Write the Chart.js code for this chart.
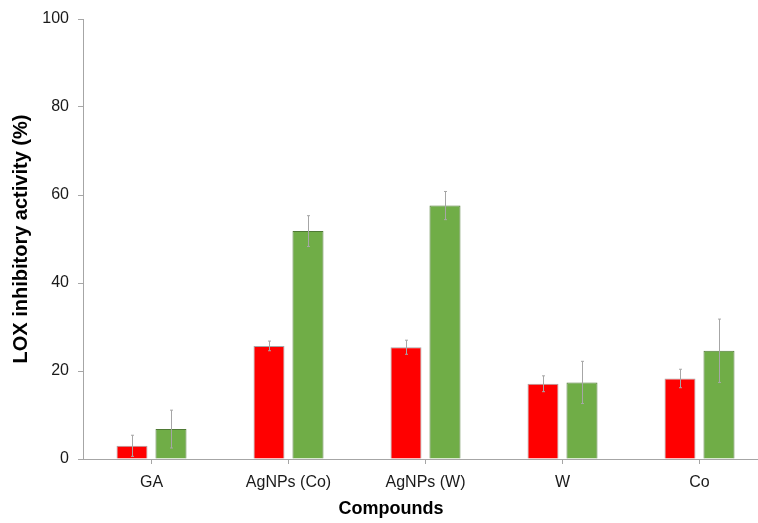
<!DOCTYPE html>
<html>
<head>
<meta charset="utf-8">
<script src="https://cdn.jsdelivr.net/npm/chart.js@4.4.1/dist/chart.umd.min.js"></script>
<style>
  html, body { margin: 0; padding: 0; background: #ffffff; overflow: hidden; }
  /* the original plot runs a little past the right edge of the picture */
  #wrap { width: 758px; height: 523px; overflow: hidden; }
</style>
</head>
<body>
<div id="wrap"><canvas id="lox-chart" width="768" height="523"></canvas></div>
<script>
// values (LOX inhibitory activity, %)
const compounds = ['GA', 'AgNPs (Co)', 'AgNPs (W)', 'W', 'Co'];
const red_values = [3.0, 25.7, 25.4, 17.1, 18.3];
const red_errors = [2.4, 1.1, 1.6, 1.8, 2.1];
const green_values = [6.8, 51.8, 57.6, 17.4, 24.6];
const green_errors = [4.3, 3.5, 3.2, 4.8, 7.2];
const y_ticks = [0, 20, 40, 60, 80, 100];

const axis_grey = '#a6a6a6';
const font_family = '"Liberation Sans", Arial, sans-serif';

const error_lookup = [red_errors, green_errors];

// thin grey error bars drawn over the bars
const error_bars = {
    id: 'error_bars',
    afterDatasetsDraw(chart)
    {
        const ctx = chart.ctx;
        const y = chart.scales.y;
        ctx.save();
        ctx.strokeStyle = axis_grey;
        ctx.lineWidth = 1;
        chart.data.datasets.forEach(function(ds, d) {
            const meta = chart.getDatasetMeta(d);
            meta.data.forEach(function(bar, i) {
                const err = error_lookup[d][i];
                const top = y.getPixelForValue(ds.data[i] + err);
                const bottom = y.getPixelForValue(Math.max(0, ds.data[i] - err));
                const x = Math.round(bar.x) + 0.5;
                ctx.beginPath();
                ctx.moveTo(x, top);
                ctx.lineTo(x, bottom);
                ctx.moveTo(x - 1.5, top);
                ctx.lineTo(x + 1.5, top);
                ctx.moveTo(x - 1.5, bottom);
                ctx.lineTo(x + 1.5, bottom);
                ctx.stroke();
            });
        });
        ctx.restore();
    }
};

// x axis title sits a bit left of the plot centre in the original
const x_title = {
    id: 'x_title',
    afterDraw(chart)
    {
        const ctx = chart.ctx;
        ctx.save();
        ctx.fillStyle = '#000000';
        ctx.font = 'bold 18px ' + font_family;
        ctx.textAlign = 'center';
        ctx.textBaseline = 'alphabetic';
        ctx.fillText('Compounds', chart.width / 2 + 7, 514);
        ctx.restore();
    }
};

const ctx = document.getElementById('lox-chart').getContext('2d');
const lox_chart = new Chart(ctx, {
    type: 'bar',
    data: {
        labels: compounds,
        datasets: [{
            label: 'Series 1',
            data: red_values,
            backgroundColor: '#ff0000',
            borderColor: '#a6a6a6',
            borderWidth: 1,
            barPercentage: 0.795,
            categoryPercentage: 0.569
        }, {
            label: 'Series 2',
            data: green_values,
            backgroundColor: '#70ad47',
            borderColor: '#4f7a35',
            borderWidth: 1,
            barPercentage: 0.795,
            categoryPercentage: 0.569
        }]
    },
    options: {
        responsive: false,
        animation: false,
        layout: {
            padding: { top: 19, right: 0, bottom: 0, left: 0 }
        },
        plugins: {
            legend: { display: false },
            tooltip: { enabled: false }
        },
        scales: {
            x: {
                offset: true,
                border: { display: true, color: axis_grey, width: 1 },
                grid: {
                    offset: false,
                    drawOnChartArea: false,
                    drawTicks: true,
                    tickLength: 5,
                    color: axis_grey
                },
                ticks: {
                    color: '#1a1a1a',
                    padding: 9,
                    maxRotation: 0,
                    font: { family: font_family, size: 16 }
                },
                afterFit: function(scale) { scale.height = 64; }
            },
            y: {
                min: 0,
                max: 100,
                border: { display: true, color: axis_grey, width: 1 },
                grid: {
                    drawOnChartArea: false,
                    drawTicks: true,
                    tickLength: 5,
                    color: axis_grey
                },
                ticks: {
                    color: '#1a1a1a',
                    padding: 9,
                    font: { family: font_family, size: 16 }
                },
                afterBuildTicks: function(scale) {
                    scale.ticks = y_ticks.map(function(v) { return { value: v }; });
                },
                title: {
                    display: true,
                    text: 'LOX inhibitory activity (%)',
                    color: '#000000',
                    font: { family: font_family, size: 20, weight: 'bold' },
                    padding: { top: 9, bottom: 0 }
                },
                afterFit: function(scale) { scale.width = 83; }
            }
        }
    },
    plugins: [error_bars, x_title]
});
</script>
</body>
</html>
